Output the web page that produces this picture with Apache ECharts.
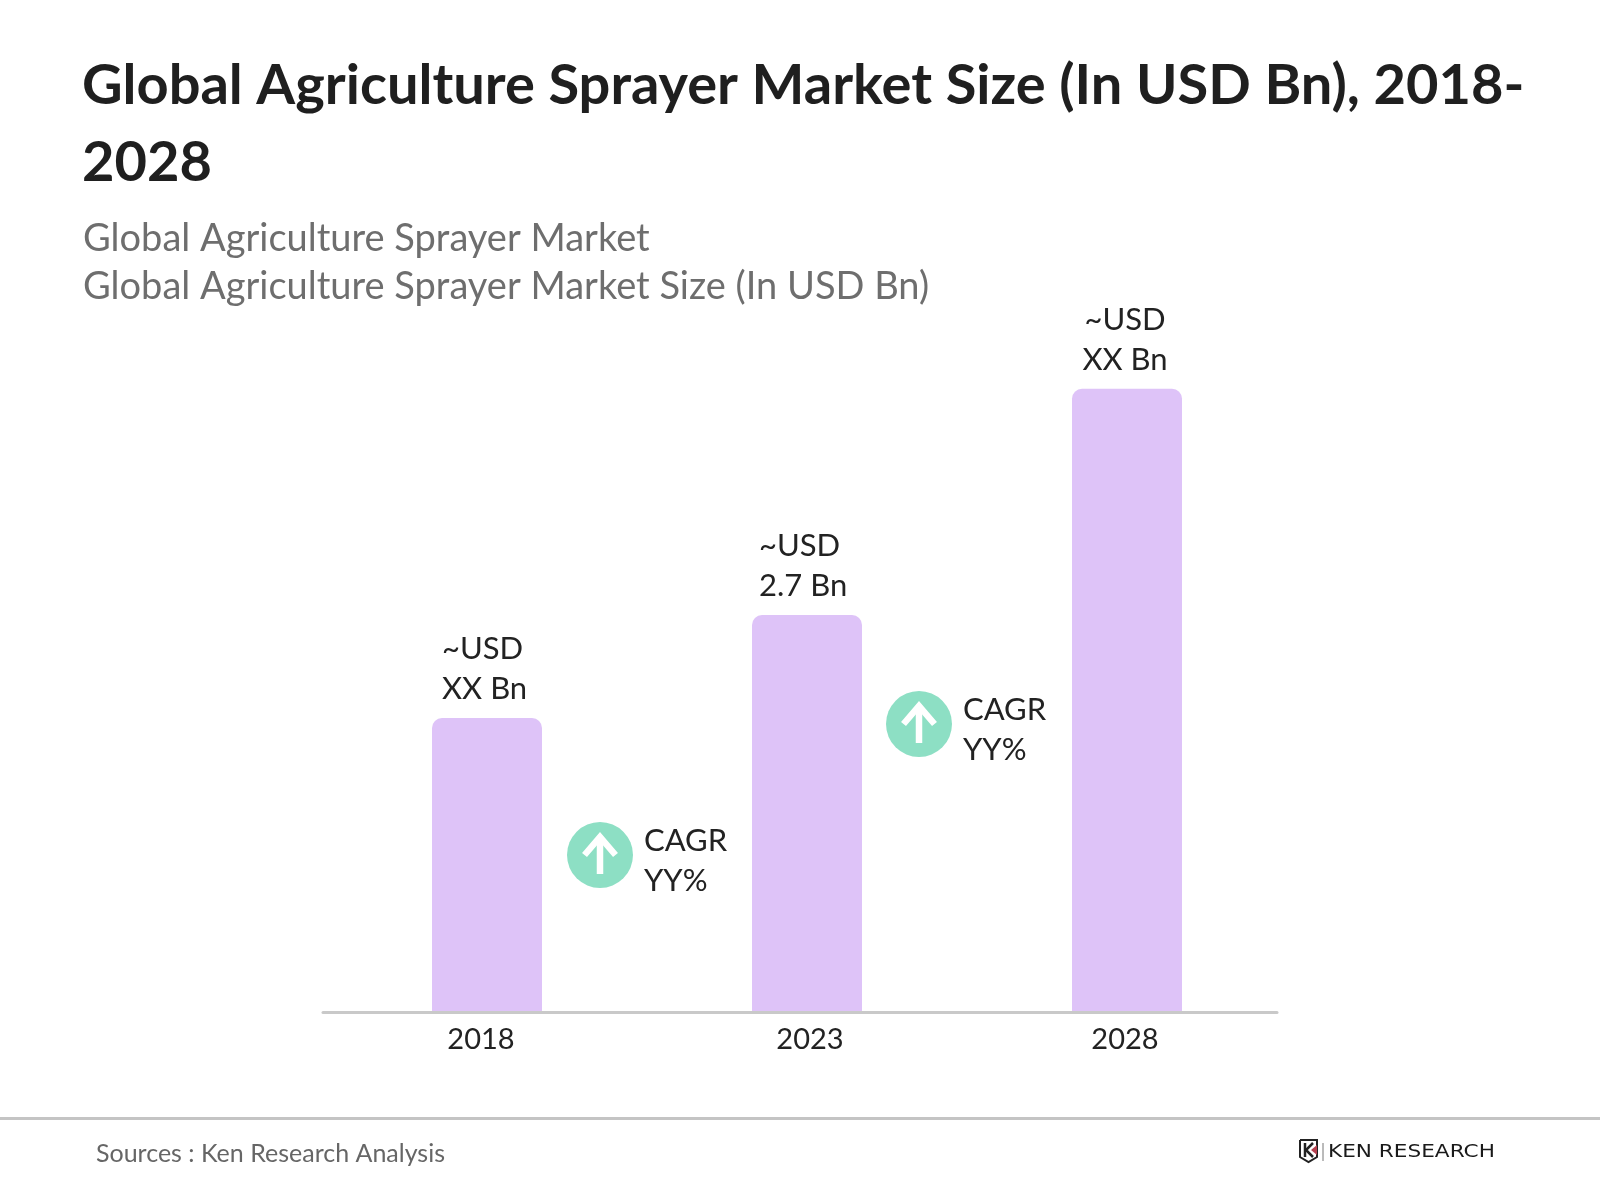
<!DOCTYPE html>
<html lang="en">

<head>
    <meta charset="UTF-8">
    <title>Global Agriculture Sprayer Market Size</title>
    <style>
        html, body { margin: 0; padding: 0; background: #fff; }
    </style>
</head>

<body>
    <div id="main" style="width:1600px;height:1200px;"></div>
</body>
<script src="https://cdn.jsdelivr.net/npm/echarts@6/dist/echarts.min.js"></script>
<script>
    var titleText = 'Global Agriculture Sprayer Market Size (In USD Bn), 2018-\n2028';
    var subText = 'Global Agriculture Sprayer Market\nGlobal Agriculture Sprayer Market Size (In USD Bn)';
    var sourceText = 'Sources : Ken Research Analysis';
    var logoText = 'KEN RESEARCH';

    var years = ['2018', '2023', '2028'];
    var sizes = [2.0, 2.7, 4.24];
    var sizeLabels = ['~USD\nXX Bn', '~USD\n2.7 Bn', '~USD\nXX Bn'];
    var cagrLabels = ['CAGR\nYY%', 'CAGR\nYY%'];

    var fontName = 'Lato';
    var inkColor = '#222222';
    var axisColor = '#C9C9C9';

    // 下面的年份标签和柱子中心不完全对齐，用 padding 微调
    var yearPadding = [[0, 12, 0, 0], [0, 0, 0, 6], [0, 4, 0, 0]];
    var labelAlign = ['left', 'left', 'center'];
    var labelOffset = [[-45, -4], [-48, -4], [-2, -4]];

    function cagrBadge(cx, cy, text) {
        return {
            type: 'group',
            x: cx,
            y: cy,
            children: [
                { type: 'circle', shape: { cx: 0, cy: 0, r: 33 }, style: { fill: '#8DDFC4' } },
                {
                    type: 'polyline',
                    shape: { points: [[-15.5, 0], [0, -18], [15.5, 0]] },
                    style: { stroke: '#fff', lineWidth: 6.5, fill: null }
                },
                {
                    type: 'line',
                    shape: { x1: 0, y1: -16, x2: 0, y2: 19 },
                    style: { stroke: '#fff', lineWidth: 6.5 }
                },
                {
                    type: 'text',
                    x: 44,
                    y: -34,
                    style: {
                        text: text,
                        font: '31px ' + fontName,
                        lineHeight: 40,
                        fill: inkColor
                    }
                }
            ]
        };
    }

    var option = {
        backgroundColor: '#fff',
        animation: false,
        title: [
            {
                text: titleText,
                left: 77,
                top: 42,
                textStyle: { fontFamily: fontName, fontWeight: 'bold', fontSize: 56, lineHeight: 77, color: '#1F1F1F' }
            },
            {
                text: subText,
                left: 78,
                top: 210,
                textStyle: { fontFamily: fontName, fontWeight: 'normal', fontSize: 38, lineHeight: 48, color: '#6E6E6E' }
            },
            {
                text: sourceText,
                left: 91,
                top: 1133,
                textStyle: { fontFamily: fontName, fontWeight: 'normal', fontSize: 25, lineHeight: 32, color: '#666666' }
            }
        ],
        grid: [
            { left: 327, width: 960, top: 350.5, height: 661.5 },
            { left: 323, width: 954, top: 350.5, height: 661.5 }
        ],
        xAxis: [
            {
                type: 'category',
                gridIndex: 0,
                data: years.map(function (y, i) {
                    return { value: y, textStyle: { padding: yearPadding[i] } };
                }),
                axisLine: { show: false },
                axisTick: { show: false },
                axisLabel: { fontFamily: fontName, fontSize: 29, color: inkColor, margin: 13 }
            },
            {
                // 轴线和向下的刻度
                type: 'category',
                gridIndex: 1,
                data: years,
                z: 5,
                axisLine: { lineStyle: { color: axisColor, width: 3 } },
                axisTick: { length: 10, lineStyle: { color: axisColor, width: 3 } },
                axisLabel: { show: false }
            },
            {
                // 向上的刻度
                type: 'category',
                gridIndex: 1,
                position: 'bottom',
                data: years,
                z: 5,
                axisLine: { show: false },
                axisTick: { inside: true, length: 10, lineStyle: { color: axisColor, width: 3 } },
                axisLabel: { show: false }
            }
        ],
        yAxis: [
            { type: 'value', gridIndex: 0, min: 0, max: 4.5, show: false },
            { type: 'value', gridIndex: 1, min: 0, max: 4.5, show: false }
        ],
        series: [
            {
                type: 'bar',
                xAxisIndex: 0,
                yAxisIndex: 0,
                barWidth: 110,
                itemStyle: { color: '#DEC3F8', borderRadius: [10, 10, 0, 0] },
                data: sizes.map(function (v, i) {
                    return {
                        value: v,
                        label: {
                            show: true,
                            position: 'top',
                            formatter: sizeLabels[i],
                            align: labelAlign[i],
                            offset: labelOffset[i],
                            fontFamily: fontName,
                            fontSize: 31,
                            lineHeight: 40,
                            color: inkColor
                        }
                    };
                })
            }
        ],
        graphic: [
            cagrBadge(600, 855, cagrLabels[0]),
            cagrBadge(919, 724, cagrLabels[1]),
            {
                // 页脚分隔线
                type: 'rect',
                shape: { x: 0, y: 1117, width: 1600, height: 3 },
                style: { fill: '#C4C4C4' }
            },
            {
                // logo
                type: 'group',
                x: 1299,
                y: 1139,
                children: [
                    {
                        type: 'polyline',
                        shape: { points: [[1, 1], [18, 1], [18, 18], [9.5, 23], [1, 18], [1, 1]] },
                        style: { stroke: '#222', lineWidth: 2, fill: null }
                    },
                    {
                        type: 'polyline',
                        shape: { points: [[6, 4], [6, 18]] },
                        style: { stroke: '#222', lineWidth: 2.5, fill: null }
                    },
                    {
                        type: 'polyline',
                        shape: { points: [[14, 4], [7, 11], [14, 18]] },
                        style: { stroke: '#222', lineWidth: 2.5, fill: null }
                    },
                    {
                        type: 'polygon',
                        shape: { points: [[18, 6], [18, 16], [12, 11]] },
                        style: { fill: '#B5404F' }
                    },
                    {
                        type: 'line',
                        shape: { x1: 24, y1: 4, x2: 24, y2: 22 },
                        style: { stroke: '#777', lineWidth: 1 }
                    }
                ]
            },
            {
                type: 'text',
                x: 1328,
                y: 1143,
                scaleX: 1.2,
                style: {
                    text: logoText,
                    font: '18px "DejaVu Sans"',
                    fill: '#1A1A1A'
                }
            }
        ]
    };

    var myChart = echarts.init(document.getElementById('main'));
    myChart.setOption(option);
</script>

</html>
